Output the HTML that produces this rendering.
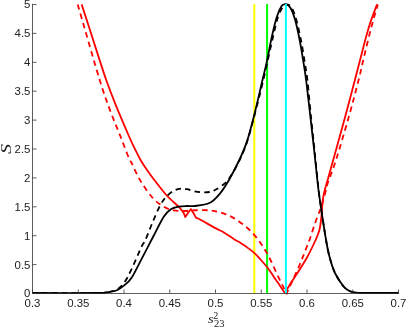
<!DOCTYPE html>
<html><head><meta charset="utf-8"><style>
html,body{margin:0;padding:0;background:#fff}
body{width:407px;height:327px;position:relative;overflow:hidden;will-change:transform;font-family:"Liberation Sans",sans-serif;color:#222}
.xt{position:absolute;top:297px;width:40px;text-align:center;font-size:11.4px;line-height:13px}
.yt{position:absolute;left:0;width:30.4px;text-align:right;font-size:11.4px;line-height:13px}
.yl{position:absolute;left:-4px;top:141px;width:20px;height:16px;line-height:16px;font-family:"Liberation Serif",serif;font-style:italic;font-size:15px;transform:rotate(-90deg) scaleX(1.35);text-align:center}
.xl{position:absolute;left:207.6px;top:310.7px;font-family:"Liberation Serif",serif;font-size:13px;line-height:16px;white-space:nowrap}
.xl i{font-style:italic;display:inline-block;transform:scaleX(1.12);transform-origin:0 50%}
.xl .sup{position:absolute;left:5.6px;top:-3.2px;font-size:10px}
.xl .sub{position:absolute;left:6.3px;top:5.7px;font-size:10.6px}
</style></head><body>
<svg width="407" height="327" viewBox="0 0 407 327" style="position:absolute;left:0;top:0"><line x1="254.3" y1="4" x2="254.3" y2="293" stroke="#ffff00" stroke-width="2"/><line x1="267.1" y1="4" x2="267.1" y2="293" stroke="#00ff00" stroke-width="2"/><path d="M81.60,4.40 C82.83,8.17 86.45,19.13 89.00,27.00 C91.55,34.87 94.03,42.77 96.90,51.60 C99.77,60.43 103.08,71.17 106.20,80.00 C109.32,88.83 111.78,95.18 115.60,104.60 C119.42,114.02 125.87,129.07 129.10,136.50 C132.33,143.93 133.13,145.37 135.00,149.20 C136.87,153.03 138.47,156.27 140.30,159.50 C142.13,162.73 143.92,165.52 146.00,168.60 C148.08,171.68 149.42,173.60 152.80,178.00 C156.18,182.40 162.00,190.22 166.30,195.00 C170.60,199.78 175.73,203.73 178.60,206.70 C181.47,209.67 182.40,211.08 183.50,212.80 C184.60,214.52 184.92,216.30 185.20,217.00 C185.67,216.33 187.05,214.32 188.00,213.00 C188.95,211.68 190.42,209.75 190.90,209.10 C191.32,209.75 192.55,211.57 193.40,213.00 C194.25,214.43 195.57,216.92 196.00,217.70 C196.67,218.00 196.93,217.85 200.00,219.50 C203.07,221.15 210.28,225.37 214.40,227.60 C218.52,229.83 221.22,230.83 224.70,232.90 C228.18,234.97 232.83,238.45 235.30,240.00 C237.77,241.55 237.55,240.98 239.50,242.20 C241.45,243.42 244.55,245.52 247.00,247.30 C249.45,249.08 251.95,250.87 254.20,252.90 C256.45,254.93 258.37,257.15 260.50,259.50 C262.63,261.85 265.08,264.58 267.00,267.00 C268.92,269.42 270.53,271.88 272.00,274.00 C273.47,276.12 274.47,277.73 275.80,279.70 C277.13,281.67 278.50,283.58 280.00,285.80 C281.50,288.02 284.00,291.80 284.80,293.00 C285.83,291.28 289.38,285.27 291.00,282.70 C292.62,280.13 291.88,281.72 294.50,277.60 C297.12,273.48 303.18,264.27 306.70,258.00 C310.22,251.73 313.47,244.70 315.60,240.00 C317.73,235.30 318.55,233.55 319.50,229.80 C320.45,226.05 320.85,221.33 321.30,217.50 C321.75,213.67 321.90,210.05 322.20,206.80 C322.50,203.55 322.67,200.80 323.10,198.00 C323.53,195.20 324.02,193.08 324.80,190.00 C325.58,186.92 326.40,184.50 327.80,179.50 C329.20,174.50 331.83,164.92 333.20,160.00 C334.57,155.08 334.02,157.18 336.00,150.00 C337.98,142.82 341.95,128.57 345.10,116.90 C348.25,105.23 351.83,91.70 354.90,80.00 C357.97,68.30 361.03,55.93 363.50,46.70 C365.97,37.47 367.45,31.65 369.70,24.60 C371.95,17.55 375.78,7.77 377.00,4.40" fill="none" stroke="#ff0000" stroke-width="1.8" stroke-linejoin="round"/><path d="M77.70,4.40 C81.37,17.00 94.20,62.07 99.70,80.00 C105.20,97.93 107.23,102.58 110.70,112.00 C114.17,121.42 117.43,128.73 120.50,136.50 C123.57,144.27 127.28,154.27 129.10,158.60 C130.92,162.93 129.50,158.78 131.40,162.50 C133.30,166.22 136.93,174.98 140.50,180.90 C144.07,186.82 148.90,193.70 152.80,198.00 C156.70,202.30 160.42,204.63 163.90,206.70 C167.38,208.77 170.18,209.68 173.70,210.40 C177.22,211.12 181.90,211.00 185.00,211.00 C188.10,211.00 188.22,210.50 192.30,210.40 C196.38,210.30 204.18,209.87 209.50,210.40 C214.82,210.93 219.28,211.77 224.20,213.60 C229.12,215.43 234.00,217.87 239.00,221.40 C244.00,224.93 249.53,229.48 254.20,234.80 C258.87,240.12 262.90,246.13 267.00,253.30 C271.10,260.47 275.60,271.25 278.80,277.80 C282.00,284.35 284.87,290.07 286.20,292.60 C287.53,295.13 286.70,292.93 286.80,293.00 C288.90,288.40 296.08,273.07 299.40,265.40 C302.72,257.73 305.02,251.23 306.70,247.00 C308.38,242.77 308.13,243.90 309.50,240.00 C310.87,236.10 313.23,228.37 314.90,223.60 C316.57,218.83 318.42,214.25 319.50,211.40 C320.58,208.55 320.38,209.82 321.40,206.50 C322.42,203.18 324.48,195.58 325.60,191.50 C326.72,187.42 326.37,187.25 328.10,182.00 C329.83,176.75 332.55,170.85 336.00,160.00 C339.45,149.15 345.03,130.23 348.80,116.90 C352.57,103.57 355.95,90.48 358.60,80.00 C361.25,69.52 362.57,62.83 364.70,54.00 C366.83,45.17 369.22,35.27 371.40,27.00 C373.58,18.73 376.73,8.17 377.80,4.40" fill="none" stroke="#ff0000" stroke-width="1.8" stroke-dasharray="5.5 4.2" stroke-linejoin="round"/><path d="M32.50,293.00 C43.42,293.00 85.92,293.08 98.00,293.00 C110.08,292.92 102.83,292.72 105.00,292.50 C107.17,292.28 109.02,292.08 111.00,291.70 C112.98,291.32 114.70,291.25 116.90,290.20 C119.10,289.15 121.75,287.48 124.20,285.40 C126.65,283.32 128.73,282.05 131.60,277.70 C134.47,273.35 137.83,266.08 141.40,259.30 C144.97,252.52 149.25,244.13 153.00,237.00 C156.75,229.87 160.87,221.15 163.90,216.50 C166.93,211.85 168.75,210.73 171.20,209.10 C173.65,207.47 175.97,207.22 178.60,206.70 C181.23,206.18 184.32,206.12 187.00,206.00 C189.68,205.88 190.95,206.50 194.70,206.00 C198.45,205.50 205.40,204.93 209.50,203.00 C213.60,201.07 216.03,198.28 219.30,194.40 C222.57,190.52 225.77,185.43 229.10,179.70 C232.43,173.97 236.32,166.38 239.30,160.00 C242.28,153.62 244.48,149.00 247.00,141.40 C249.52,133.80 251.82,124.63 254.40,114.40 C256.98,104.17 260.42,88.83 262.50,80.00 C264.58,71.17 265.35,68.58 266.90,61.40 C268.45,54.22 270.17,44.27 271.80,36.90 C273.43,29.53 275.07,22.33 276.70,17.20 C278.33,12.07 280.17,8.23 281.60,6.10 C283.03,3.97 283.87,4.18 285.30,4.40 C286.73,4.62 288.57,4.85 290.20,7.40 C291.83,9.95 293.47,13.97 295.10,19.70 C296.73,25.43 298.57,34.43 300.00,41.80 C301.43,49.17 302.68,57.53 303.70,63.90 C304.72,70.27 304.98,71.17 306.10,80.00 C307.22,88.83 309.08,105.43 310.40,116.90 C311.72,128.37 313.20,141.62 314.00,148.80 C314.80,155.98 314.45,153.13 315.20,160.00 C315.95,166.87 317.53,182.07 318.50,190.00 C319.47,197.93 320.02,200.93 321.00,207.60 C321.98,214.27 323.27,223.02 324.40,230.00 C325.53,236.98 326.70,244.17 327.80,249.50 C328.90,254.83 329.72,257.92 331.00,262.00 C332.28,266.08 333.43,269.97 335.50,274.00 C337.57,278.03 341.07,283.37 343.40,286.20 C345.73,289.03 347.40,289.92 349.50,291.00 C351.60,292.08 353.42,292.37 356.00,292.70 C358.58,293.03 357.92,292.95 365.00,293.00 C372.08,293.05 392.92,293.00 398.50,293.00" fill="none" stroke="#000" stroke-width="1.8" stroke-linejoin="round"/><path d="M32.50,293.00 C43.42,293.00 85.92,293.08 98.00,293.00 C110.08,292.92 102.83,292.75 105.00,292.50 C107.17,292.25 109.02,291.98 111.00,291.50 C112.98,291.02 114.70,291.07 116.90,289.60 C119.10,288.13 121.75,286.12 124.20,282.70 C126.65,279.28 128.73,275.05 131.60,269.10 C134.47,263.15 139.10,251.85 141.40,247.00 C143.70,242.15 143.55,244.08 145.40,240.00 C147.25,235.92 150.03,228.27 152.50,222.50 C154.97,216.73 157.90,209.68 160.20,205.40 C162.50,201.12 164.05,199.25 166.30,196.80 C168.55,194.35 171.25,192.05 173.70,190.70 C176.15,189.35 178.78,188.95 181.00,188.70 C183.22,188.45 184.72,188.75 187.00,189.20 C189.28,189.65 192.20,190.88 194.70,191.40 C197.20,191.92 199.53,192.20 202.00,192.30 C204.47,192.40 207.33,192.38 209.50,192.00 C211.67,191.62 212.95,191.03 215.00,190.00 C217.05,188.97 219.45,187.70 221.80,185.80 C224.15,183.90 226.13,182.90 229.10,178.60 C232.07,174.30 236.58,166.20 239.60,160.00 C242.62,153.80 244.68,149.00 247.20,141.40 C249.72,133.80 252.02,124.63 254.70,114.40 C257.38,104.17 260.25,92.92 263.30,80.00 C266.35,67.08 270.55,47.40 273.00,36.90 C275.45,26.40 276.33,22.07 278.00,17.00 C279.67,11.93 281.50,8.60 283.00,6.50 C284.50,4.40 285.58,4.25 287.00,4.40 C288.42,4.55 289.95,4.85 291.50,7.40 C293.05,9.95 294.67,13.97 296.30,19.70 C297.93,25.43 299.85,34.43 301.30,41.80 C302.75,49.17 303.98,57.53 305.00,63.90 C306.02,70.27 306.40,71.17 307.40,80.00 C308.40,88.83 309.83,105.43 311.00,116.90 C312.17,128.37 313.65,141.62 314.40,148.80 C315.15,155.98 314.80,153.13 315.50,160.00 C316.20,166.87 317.68,182.07 318.60,190.00 C319.52,197.93 320.03,200.93 321.00,207.60 C321.97,214.27 323.27,223.02 324.40,230.00 C325.53,236.98 326.70,244.17 327.80,249.50 C328.90,254.83 329.72,257.92 331.00,262.00 C332.28,266.08 333.43,269.97 335.50,274.00 C337.57,278.03 341.07,283.37 343.40,286.20 C345.73,289.03 347.40,289.92 349.50,291.00 C351.60,292.08 353.42,292.37 356.00,292.70 C358.58,293.03 357.92,292.95 365.00,293.00 C372.08,293.05 392.92,293.00 398.50,293.00" fill="none" stroke="#000" stroke-width="1.8" stroke-dasharray="5.5 4.2" stroke-linejoin="round"/><line x1="285.9" y1="4" x2="285.9" y2="293" stroke="#00ffff" stroke-width="2"/><path d="M32.5,4 V293.5 M32,293.5 H398.5" stroke="#333" stroke-width="0.8" fill="none"/><line x1="32.50" y1="293" x2="32.50" y2="289.5" stroke="#333" stroke-width="0.8"/><line x1="78.25" y1="293" x2="78.25" y2="289.5" stroke="#333" stroke-width="0.8"/><line x1="124.00" y1="293" x2="124.00" y2="289.5" stroke="#333" stroke-width="0.8"/><line x1="169.75" y1="293" x2="169.75" y2="289.5" stroke="#333" stroke-width="0.8"/><line x1="215.50" y1="293" x2="215.50" y2="289.5" stroke="#333" stroke-width="0.8"/><line x1="261.25" y1="293" x2="261.25" y2="289.5" stroke="#333" stroke-width="0.8"/><line x1="307.00" y1="293" x2="307.00" y2="289.5" stroke="#333" stroke-width="0.8"/><line x1="352.75" y1="293" x2="352.75" y2="289.5" stroke="#333" stroke-width="0.8"/><line x1="398.50" y1="293" x2="398.50" y2="289.5" stroke="#333" stroke-width="0.8"/><line x1="32.5" y1="293.50" x2="36.5" y2="293.50" stroke="#333" stroke-width="0.8"/><line x1="32.5" y1="264.60" x2="36.5" y2="264.60" stroke="#333" stroke-width="0.8"/><line x1="32.5" y1="235.70" x2="36.5" y2="235.70" stroke="#333" stroke-width="0.8"/><line x1="32.5" y1="206.80" x2="36.5" y2="206.80" stroke="#333" stroke-width="0.8"/><line x1="32.5" y1="177.90" x2="36.5" y2="177.90" stroke="#333" stroke-width="0.8"/><line x1="32.5" y1="149.00" x2="36.5" y2="149.00" stroke="#333" stroke-width="0.8"/><line x1="32.5" y1="120.10" x2="36.5" y2="120.10" stroke="#333" stroke-width="0.8"/><line x1="32.5" y1="91.20" x2="36.5" y2="91.20" stroke="#333" stroke-width="0.8"/><line x1="32.5" y1="62.30" x2="36.5" y2="62.30" stroke="#333" stroke-width="0.8"/><line x1="32.5" y1="33.40" x2="36.5" y2="33.40" stroke="#333" stroke-width="0.8"/><line x1="32.5" y1="4.50" x2="36.5" y2="4.50" stroke="#333" stroke-width="0.8"/></svg>
<div class="xt" style="left:12.50px">0.3</div><div class="xt" style="left:58.25px">0.35</div><div class="xt" style="left:104.00px">0.4</div><div class="xt" style="left:149.75px">0.45</div><div class="xt" style="left:195.50px">0.5</div><div class="xt" style="left:241.25px">0.55</div><div class="xt" style="left:287.00px">0.6</div><div class="xt" style="left:332.75px">0.65</div><div class="xt" style="left:378.50px">0.7</div><div class="yt" style="top:287.40px">0</div><div class="yt" style="top:258.50px">0.5</div><div class="yt" style="top:229.60px">1</div><div class="yt" style="top:200.70px">1.5</div><div class="yt" style="top:171.80px">2</div><div class="yt" style="top:142.90px">2.5</div><div class="yt" style="top:114.00px">3</div><div class="yt" style="top:85.10px">3.5</div><div class="yt" style="top:56.20px">4</div><div class="yt" style="top:27.30px">4.5</div><div class="yt" style="top:-1.60px">5</div>
<div class="yl">S</div>
<div class="xl"><i>s</i><span class="sup">2</span><span class="sub">23</span></div>
</body></html>
